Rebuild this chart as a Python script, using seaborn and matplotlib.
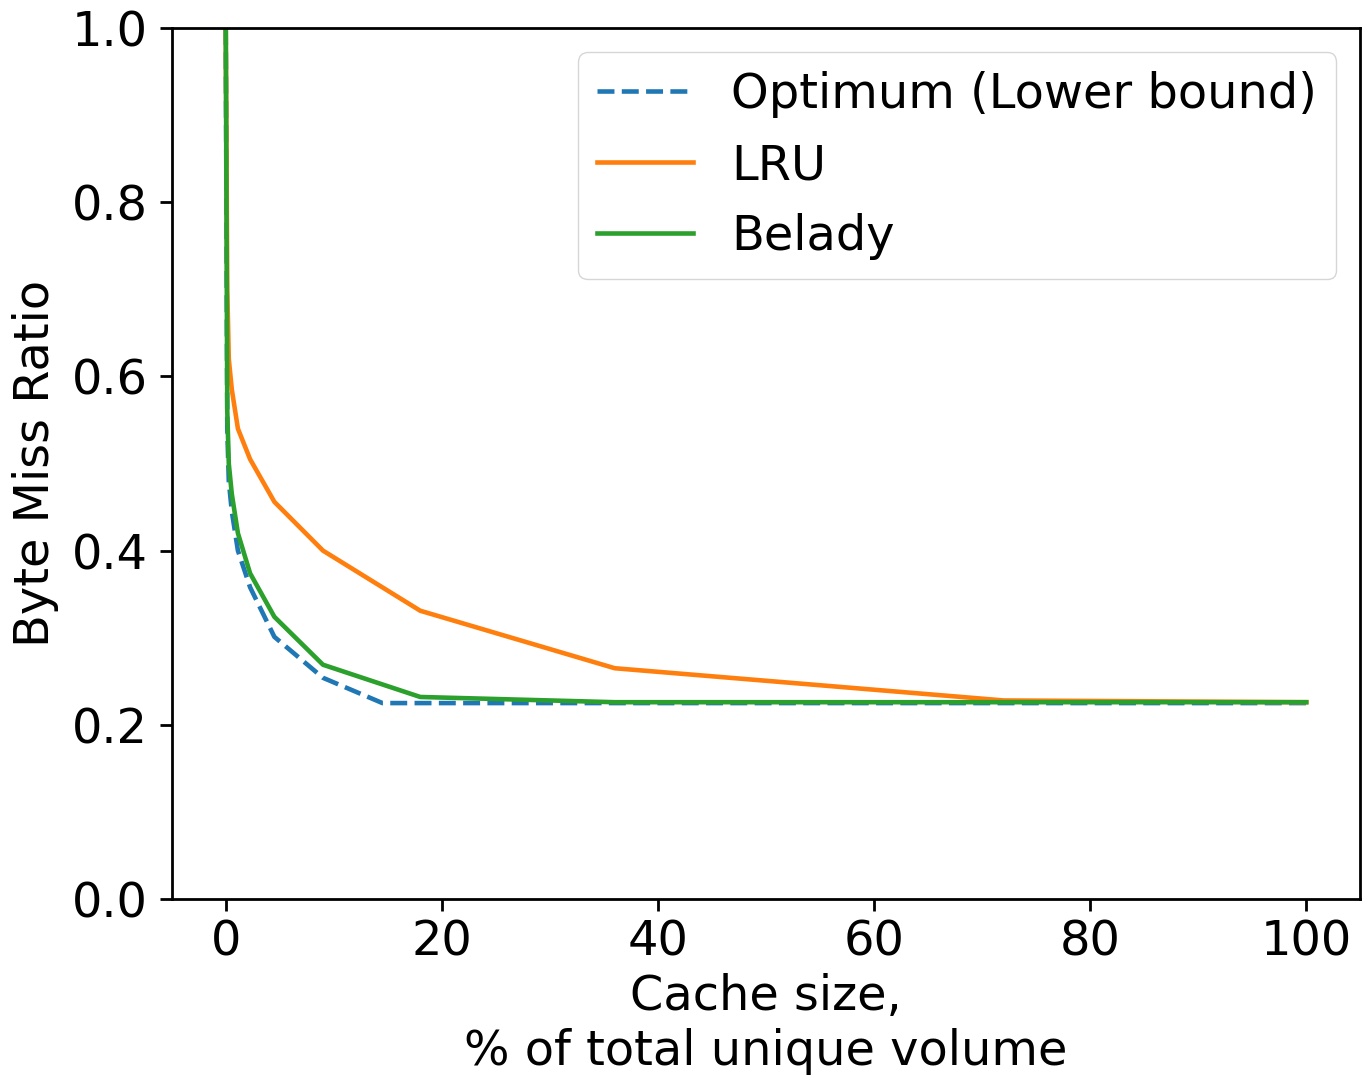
import matplotlib
matplotlib.use("Agg")
import matplotlib.pyplot as plt
import seaborn as sns
import pandas as pd

# Cache sizes as % of total unique volume
cache_pct = [0, 0.14, 0.28, 0.56, 1.125, 2.25, 4.5, 9, 18, 36, 72, 100]
lru = [1.0, 0.70, 0.62, 0.585, 0.54, 0.505, 0.456, 0.40, 0.331, 0.265, 0.228, 0.226]
belady = [1.0, 0.56, 0.50, 0.465, 0.42, 0.374, 0.324, 0.269, 0.232, 0.226, 0.226, 0.226]

optimum_pct = [0, 0.14, 0.28, 0.56, 1.125, 2.25, 4.5, 9, 14.5, 18, 36, 72, 100]
optimum = [1.0, 0.54, 0.48, 0.445, 0.40, 0.358, 0.301, 0.254, 0.225, 0.225, 0.225, 0.225, 0.225]

plt.rcParams.update({
    "font.family": ["DejaVu Sans"],
    "font.size": 34.5,
    "axes.linewidth": 2.0,
    "xtick.major.size": 8.6,
    "ytick.major.size": 8.6,
    "xtick.major.pad": 5.5,
    "ytick.major.pad": 8.6,
    "xtick.major.width": 2.0,
    "ytick.major.width": 2.0,
})

fig = plt.figure(figsize=(13.63, 10.78), dpi=100)
ax = fig.add_axes([0.126, 0.166, 0.872, 0.808])

opt_df = pd.DataFrame({"x": optimum_pct, "y": optimum})
lru_df = pd.DataFrame({"x": cache_pct, "y": lru})
bel_df = pd.DataFrame({"x": cache_pct, "y": belady})

sns.lineplot(data=opt_df, x="x", y="y", ax=ax, color="#1f77b4", linestyle="--",
             linewidth=3.3, label="Optimum (Lower bound)", estimator=None, sort=False)
sns.lineplot(data=lru_df, x="x", y="y", ax=ax, color="#ff7f0e",
             linewidth=3.3, label="LRU", estimator=None, sort=False)
sns.lineplot(data=bel_df, x="x", y="y", ax=ax, color="#2ca02c",
             linewidth=3.3, label="Belady", estimator=None, sort=False)

ax.set_xlim(-5, 105)
ax.set_ylim(0, 1.0)
ax.set_xticks([0, 20, 40, 60, 80, 100])
ax.set_yticks([0.0, 0.2, 0.4, 0.6, 0.8, 1.0])
ax.set_xlabel("Cache size,\n% of total unique volume", labelpad=5, linespacing=1.22)
ax.set_ylabel("Byte Miss Ratio", labelpad=9)

ax.legend(loc="upper right", fontsize=34.5, borderaxespad=0.5)

fig.savefig("out.png", dpi=100)
